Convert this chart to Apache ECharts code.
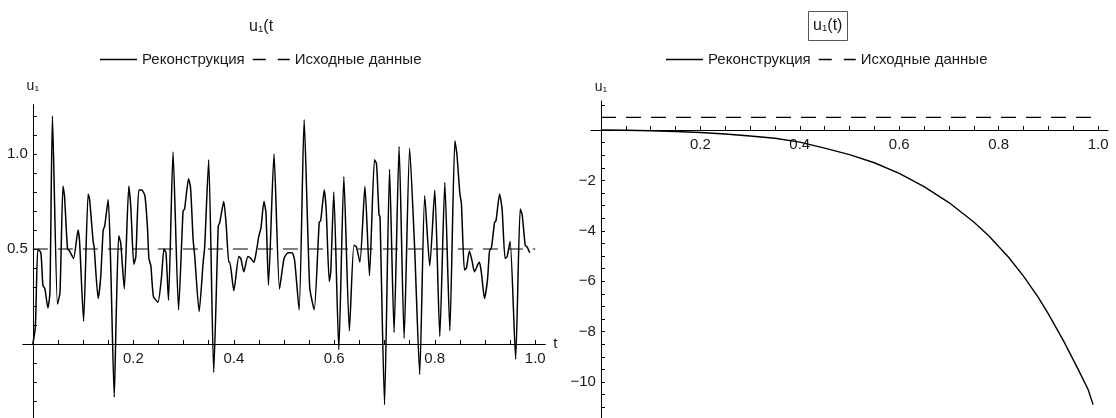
<!DOCTYPE html>
<html>
<head>
<meta charset="utf-8">
<script src="https://cdn.jsdelivr.net/npm/echarts@6/dist/echarts.min.js"></script>
<style>
html,body{margin:0;padding:0;background:#fff;}
#c{width:1116px;height:418px;}
</style>
</head>
<body>
<div id="c"></div>
<script>
// ---- Data ----
const seriesNames = ['Реконструкция', 'Исходные данные'];

// Left panel: reconstruction u1(t)
const tLeft = [0.000,0.005,0.010,0.016,0.020,0.024,0.030,0.034,0.039,0.049,0.054,0.060,0.063,0.069,0.073,0.081,0.090,0.093,0.101,0.110,0.113,0.120,0.122,0.130,0.135,0.140,0.143,0.150,0.155,0.162,0.166,0.171,0.175,0.182,0.191,0.195,0.201,0.205,0.211,0.217,0.223,0.228,0.231,0.235,0.240,0.249,0.256,0.261,0.265,0.270,0.279,0.290,0.299,0.302,0.310,0.314,0.319,0.322,0.331,0.339,0.342,0.350,0.360,0.369,0.372,0.380,0.385,0.390,0.392,0.400,0.410,0.414,0.420,0.428,0.434,0.440,0.445,0.450,0.454,0.460,0.464,0.469,0.480,0.491,0.500,0.508,0.516,0.521,0.530,0.540,0.551,0.560,0.570,0.573,0.580,0.584,0.590,0.593,0.599,0.609,0.619,0.630,0.639,0.644,0.651,0.661,0.670,0.680,0.684,0.689,0.691,0.700,0.710,0.719,0.729,0.739,0.750,0.760,0.770,0.780,0.790,0.800,0.810,0.820,0.830,0.840,0.844,0.850,0.853,0.859,0.863,0.869,0.874,0.879,0.886,0.889,0.893,0.899,0.905,0.909,0.913,0.919,0.922,0.929,0.934,0.940,0.944,0.950,0.961,0.970,0.974,0.980,0.984,0.989];
const uLeft = [0.00,0.09,0.50,0.48,0.31,0.29,0.19,0.27,1.20,0.21,0.27,0.83,0.78,0.50,0.49,0.45,0.60,0.54,0.12,0.79,0.76,0.54,0.51,0.24,0.35,0.60,0.62,0.76,0.41,-0.28,0.16,0.57,0.53,0.29,0.83,0.72,0.42,0.46,0.81,0.81,0.78,0.62,0.45,0.41,0.25,0.22,0.35,0.50,0.48,0.23,1.01,0.18,0.70,0.71,0.87,0.82,0.55,0.47,0.17,0.43,0.51,0.97,-0.15,0.62,0.64,0.75,0.62,0.43,0.43,0.28,0.46,0.45,0.38,0.46,0.45,0.43,0.49,0.57,0.61,0.75,0.69,0.31,1.00,0.29,0.45,0.48,0.48,0.44,0.18,1.18,0.30,0.18,0.64,0.65,0.81,0.70,0.33,0.38,0.80,-0.03,0.88,0.07,0.52,0.51,0.43,0.83,0.36,0.97,0.95,0.68,0.67,-0.32,0.92,0.06,1.04,0.03,1.03,0.50,-0.16,0.78,0.41,0.81,0.04,0.85,0.07,1.07,1.00,0.79,0.74,0.39,0.40,0.49,0.44,0.38,0.42,0.43,0.37,0.24,0.34,0.49,0.51,0.64,0.65,0.79,0.71,0.45,0.46,0.54,-0.08,0.71,0.68,0.52,0.51,0.48];

// Right panel: reconstruction u1(t)
const tRight = [0,0.05,0.10,0.15,0.20,0.25,0.30,0.35,0.40,0.45,0.50,0.55,0.60,0.65,0.70,0.75,0.78,0.82,0.85,0.88,0.90,0.93,0.96,0.98,0.99];
const uRight = [0,-0.01,-0.03,-0.06,-0.10,-0.16,-0.24,-0.33,-0.48,-0.72,-0.98,-1.30,-1.72,-2.25,-2.88,-3.65,-4.20,-5.05,-5.80,-6.65,-7.30,-8.35,-9.50,-10.30,-10.90];

// Original data (constant level) for both panels
const tOrig = [0, 1];
const uOrig = [0.5, 0.5];

// Tick labels
const xTickLabels = [0.2, 0.4, 0.6, 0.8, 1.0];
const yTickLabelsLeft = [0.5, 1.0];
const yTickLabelsRight = [-10, -8, -6, -4, -2];

// ---- Build ----
function zip(a, b) { return a.map((v, i) => [v, b[i]]); }
function range(from, to, step, dec) {
  const out = []; const n = Math.round((to - from) / step);
  for (let i = 0; i <= n; i++) out.push(+(from + i * step).toFixed(dec));
  return out;
}
const xMinor = range(0.05, 1.0, 0.05, 2);
const yMinorLeft = range(-0.3, 1.2, 0.1, 1);
const yMinorRight = range(-11, 1, 0.5, 1);

const FONT = '"Liberation Sans", Arial, sans-serif';
const TXT = '#1a1a1a';

// panel geometry
const G = [
  { left: 22.8, top: 104.6, width: 522.5, height: 313.5, xmin: -0.02, xmax: 1.02, ymin: -0.39, ymax: 1.26 },
  { left: 591, top: 101, width: 517, height: 317.5, xmin: -0.02, xmax: 1.02, ymin: -11.45, ymax: 1.15 }
];
// offsets so that axes cross at (0, 0)
function xOffset(g) { return -(g.height * (0 - g.ymin) / (g.ymax - g.ymin)); }
function yOffset(g) { return -(g.width * (0 - g.xmin) / (g.xmax - g.xmin)); }

function xAxisCfg(i, withName) {
  const g = G[i];
  return {
    type: 'value', gridIndex: i, min: g.xmin, max: g.xmax, position: 'bottom', offset: xOffset(g),
    splitLine: { show: false },
    axisLine: { onZero: false, lineStyle: { color: '#000', width: 1 } },
    axisTick: { inside: true, length: 4, customValues: xMinor.slice(), lineStyle: { color: '#000', width: 1 } },
    axisLabel: { customValues: xTickLabels.slice(), formatter: v => Number(v).toFixed(1), fontSize: 15, color: TXT, margin: 7, fontFamily: FONT },
    name: withName ? 't' : '', nameLocation: 'end', nameGap: 8,
    nameTextStyle: { fontSize: 15, color: TXT, fontFamily: FONT, verticalAlign: 'middle' }
  };
}

const solidIcon = 'path://M0,0H37V1.3H0Z';
const dashIcon = 'path://M0,0H13V1.3H0Z M25,0H37V1.3H25Z';
function legendCfg(left) {
  return {
    data: [{ name: seriesNames[0], icon: solidIcon }, { name: seriesNames[1], icon: dashIcon }],
    left: left, top: 52, padding: 0, itemWidth: 37, itemHeight: 14, itemGap: 8, symbolKeepAspect: true,
    itemStyle: { color: '#000', borderWidth: 0 },
    textStyle: { fontSize: 15, color: TXT, fontFamily: FONT }
  };
}

const option = {
  animation: false,
  textStyle: { fontFamily: FONT },
  title: [
    { text: 'u₁(t', left: 249, top: 19, padding: 0,
      textStyle: { fontSize: 16, fontWeight: 'normal', color: TXT, fontFamily: FONT } },
    { text: 'u₁(t)', left: 808, top: 11, padding: [7, 5, 7, 5], borderWidth: 1, borderColor: '#555',
      textStyle: { fontSize: 16, fontWeight: 'normal', color: TXT, fontFamily: FONT } }
  ],
  legend: [ legendCfg(100), legendCfg(666) ],
  grid: G.map(g => ({ left: g.left, top: g.top, width: g.width, height: g.height, outerBoundsMode: 'none', containLabel: false })),
  xAxis: [ xAxisCfg(0, true), xAxisCfg(1, false) ],
  yAxis: [
    { type: 'value', gridIndex: 0, min: G[0].ymin, max: G[0].ymax, position: 'left', offset: yOffset(G[0]),
      splitLine: { show: false },
      axisLine: { onZero: false, lineStyle: { color: '#000', width: 1 } },
      axisTick: { inside: true, length: 4, customValues: yMinorLeft, lineStyle: { color: '#000', width: 1 } },
      axisLabel: { customValues: yTickLabelsLeft, formatter: v => Number(v).toFixed(1), fontSize: 15, color: TXT, margin: 5, fontFamily: FONT },
      name: 'u₁', nameLocation: 'end', nameGap: 11,
      nameTextStyle: { fontSize: 14, color: TXT, fontFamily: FONT } },
    { type: 'value', gridIndex: 1, min: G[1].ymin, max: G[1].ymax, position: 'left', offset: yOffset(G[1]),
      splitLine: { show: false },
      axisLine: { onZero: false, lineStyle: { color: '#000', width: 1 } },
      axisTick: { inside: true, length: 4, customValues: yMinorRight, lineStyle: { color: '#000', width: 1 } },
      axisLabel: { customValues: yTickLabelsRight, formatter: v => (v < 0 ? '\u2212' : '') + Math.abs(v), fontSize: 15, color: TXT, margin: 5, fontFamily: FONT },
      name: 'u₁', nameLocation: 'end', nameGap: 7,
      nameTextStyle: { fontSize: 14, color: TXT, fontFamily: FONT } }
  ],
  series: [
    { name: seriesNames[0], type: 'line', xAxisIndex: 0, yAxisIndex: 0, data: zip(tLeft, uLeft),
      symbol: 'none', smooth: 0.2, lineStyle: { color: '#000', width: 1.5 }, itemStyle: { color: '#000' } },
    { name: seriesNames[1], type: 'line', xAxisIndex: 0, yAxisIndex: 0, data: zip(tOrig, uOrig),
      symbol: 'none', lineStyle: { color: '#000', width: 1.1, type: [15, 10] }, itemStyle: { color: '#000' } },
    { name: seriesNames[0], type: 'line', xAxisIndex: 1, yAxisIndex: 1, data: zip(tRight, uRight),
      symbol: 'none', lineStyle: { color: '#000', width: 1.4 }, itemStyle: { color: '#000' } },
    { name: seriesNames[1], type: 'line', xAxisIndex: 1, yAxisIndex: 1, data: zip(tOrig, uOrig),
      symbol: 'none', lineStyle: { color: '#000', width: 1.1, type: [15, 10] }, itemStyle: { color: '#000' } }
  ]
};

const chart = echarts.init(document.getElementById('c'), null, { renderer: 'canvas' });
chart.setOption(option);
</script>
</body>
</html>
